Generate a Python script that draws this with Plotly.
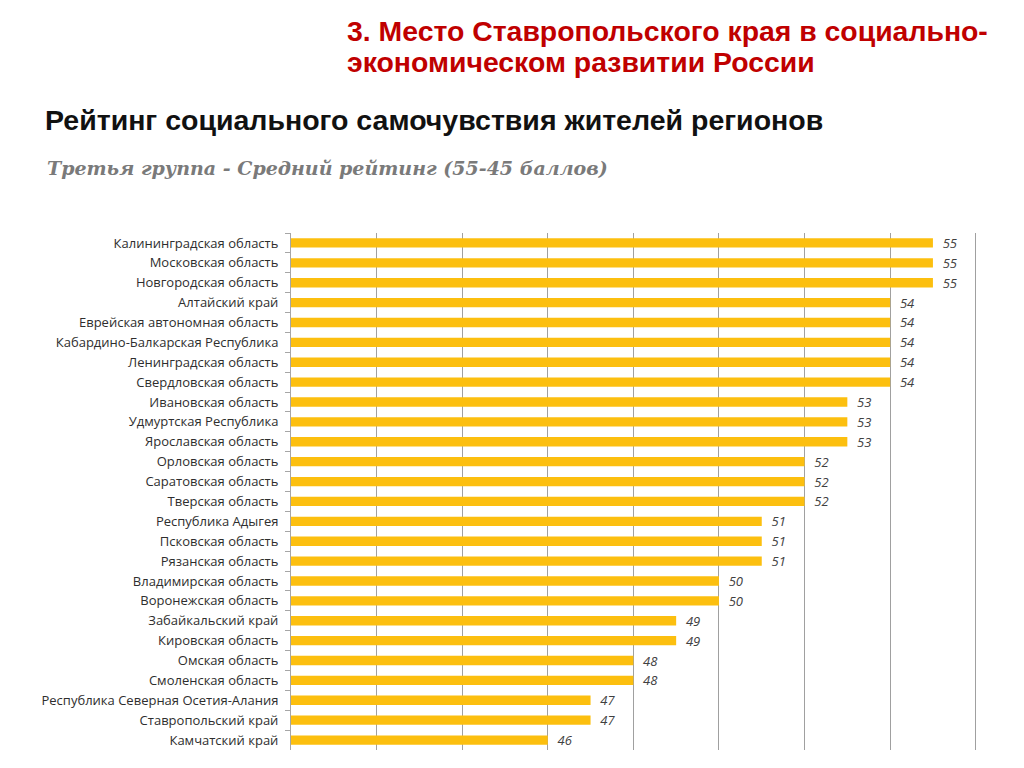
import plotly.graph_objects as go

regions = [
    "Калининградская область", "Московская область", "Новгородская область",
    "Алтайский край", "Еврейская автономная область", "Кабардино-Балкарская Республика",
    "Ленинградская область", "Свердловская область", "Ивановская область",
    "Удмуртская Республика", "Ярославская область", "Орловская область",
    "Саратовская область", "Тверская область", "Республика Адыгея",
    "Псковская область", "Рязанская область", "Владимирская область",
    "Воронежская область", "Забайкальский край", "Кировская область",
    "Омская область", "Смоленская область", "Республика Северная Осетия-Алания",
    "Ставропольский край", "Камчатский край",
]
scores = [55, 55, 55, 54, 54, 54, 54, 54, 53, 53, 53, 52, 52, 52, 51, 51, 51,
          50, 50, 49, 49, 48, 48, 47, 47, 46]
axis_min = 40
axis_max = 56

title_red_1 = "3. Место Ставропольского края в социально-"
title_red_2 = "экономическом развитии России"
title_main = "Рейтинг социального самочувствия жителей регионов"
subtitle = "Третья группа - Средний рейтинг (55-45 баллов)"

# page has an 8px body margin; figure is sized to fill the rest of the window
W, H = 1016, 760
L, R, T, B = 283, 44, 225, 18
PW, PH = W - L - R, H - T - B


def px(X):
    return (X - 8 - L) / PW


def py(Y):
    return 1 - (Y - 8 - T) / PH


fig = go.Figure()
fig.add_trace(go.Bar(
    x=[v - axis_min for v in scores], y=regions, orientation="h",
    base=axis_min,
    marker=dict(color="#FCBF0F", line=dict(width=0)),
    text=["  " + str(v) for v in scores],
    textposition="outside", cliponaxis=False, constraintext="none",
    textfont=dict(family="Open Sans", size=13, color="#404040", style="italic"),
))

fig.update_layout(
    width=W, height=H,
    paper_bgcolor="white", plot_bgcolor="white",
    margin=dict(l=L, r=R, t=T, b=B),
    showlegend=False,
    bargap=0.53,
    xaxis=dict(range=[axis_min, axis_max + 0.1], dtick=2, tick0=axis_min, showgrid=True,
               gridcolor="#a0a0a0", gridwidth=1, showticklabels=False,
               zeroline=False, showline=False, ticks=""),
    yaxis=dict(autorange="reversed", showline=True, linecolor="#a6a6a6",
               linewidth=1, ticks="outside", tickson="boundaries", ticklen=5,
               tickcolor="#a6a6a6", showgrid=False, ticklabelstandoff=9,
               tickfont=dict(family="Open Sans", size=13, color="#2e2e2e")),
    annotations=[
        dict(text=title_red_1, x=px(345), y=py(31), xref="paper", yref="paper",
             showarrow=False, xanchor="left", yanchor="middle",
             font=dict(family="Liberation Sans", size=28.4, color="#C00000", weight="bold")),
        dict(text=title_red_2, x=px(345), y=py(62), xref="paper", yref="paper",
             showarrow=False, xanchor="left", yanchor="middle",
             font=dict(family="Liberation Sans", size=28.4, color="#C00000", weight="bold")),
        dict(text=title_main, x=px(43), y=py(120), xref="paper", yref="paper",
             showarrow=False, xanchor="left", yanchor="middle",
             font=dict(family="Liberation Sans", size=28.5, color="#111111", weight="bold")),
        dict(text=subtitle, x=px(45), y=py(168), xref="paper", yref="paper",
             showarrow=False, xanchor="left", yanchor="middle",
             font=dict(family="DejaVu Serif", size=19, color="#7a7a7a", weight="bold", style="italic")),
    ],
)

fig.write_html("out.html")
